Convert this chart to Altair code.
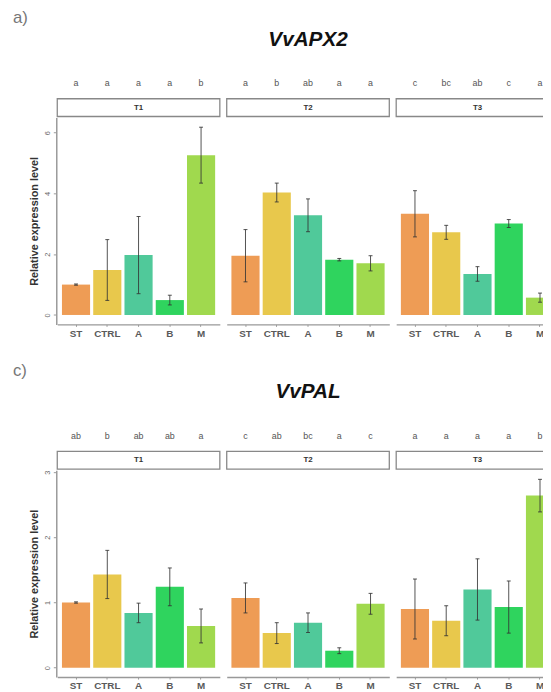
import altair as alt
import pandas as pd

treatments = ["ST", "CTRL", "A", "B", "M"]
times = ["T1", "T2", "T3"]
colors = ["#EE9C55", "#E8C84C", "#50C99A", "#2FD45E", "#A0D94E"]

apx_mean = [1.00, 1.48, 1.97, 0.49, 5.26,
            1.95, 4.03, 3.28, 1.82, 1.70,
            3.33, 2.72, 1.35, 3.01, 0.57]
apx_err = [0.02, 1.00, 1.27, 0.16, 0.92,
           0.86, 0.31, 0.54, 0.04, 0.25,
           0.76, 0.23, 0.24, 0.13, 0.15]
apx_letters = ["a", "a", "a", "a", "b",
               "a", "b", "ab", "a", "a",
               "c", "bc", "ab", "c", "a"]

pal_mean = [1.00, 1.43, 0.84, 1.24, 0.64,
            1.07, 0.53, 0.69, 0.26, 0.98,
            0.90, 0.72, 1.20, 0.93, 2.64]
pal_err = [0.01, 0.37, 0.15, 0.29, 0.26,
           0.23, 0.16, 0.15, 0.045, 0.16,
           0.46, 0.23, 0.47, 0.40, 0.25]
pal_letters = ["ab", "b", "ab", "ab", "a",
               "c", "ab", "bc", "a", "c",
               "a", "a", "a", "a", "b"]

FONT = "Liberation Sans"
W = 165
H = 210


def make_df(means, errs, letters):
    rows = []
    for i, t in enumerate(times):
        for j, tr in enumerate(treatments):
            k = i * 5 + j
            rows.append(dict(T=t, trt=tr, val=means[k], err=errs[k], let=letters[k]))
    return pd.DataFrame(rows)


def gene_chart(df, gene, tag, ydom, yticks):
    x = alt.X("trt:N", sort=treatments,
              scale=alt.Scale(paddingInner=0.1, paddingOuter=0.15),
              axis=alt.Axis(title=None, labelAngle=0, labelFont=FONT, labelFontSize=10,
                            labelFontWeight="bold", labelColor="#5a5a5a",
                            domainColor="#999999", domainWidth=1.5,
                            tickColor="#999999", tickSize=2, labelPadding=2))
    yaxis = alt.Axis(values=yticks, title="Relative expression level", labelAngle=-90,
                     labelFont=FONT, labelFontSize=7.5, labelColor="#666666",
                     titleFont=FONT, titleFontSize=11, titleFontWeight="bold",
                     titleColor="#333333", domainColor="#999999", domainWidth=1.5,
                     tickColor="#999999", tickSize=3, labelPadding=2, titlePadding=4,
                     grid=False)
    yscale = alt.Scale(domain=ydom, nice=False, zero=False)

    base = alt.Chart()
    bars = base.mark_bar().encode(
        x=x,
        y=alt.Y("val:Q", scale=yscale, axis=yaxis),
        y2=alt.datum(0),
        color=alt.Color("trt:N", scale=alt.Scale(domain=treatments, range=colors), legend=None),
    )
    eb = base.transform_calculate(lo="datum.val - datum.err", hi="datum.val + datum.err")
    rules = eb.mark_rule(color="#333333", strokeWidth=1, opacity=0.85).encode(
        x=x, y=alt.Y("lo:Q", scale=yscale, axis=yaxis), y2="hi:Q")
    caps_lo = eb.mark_tick(color="#333333", size=4, thickness=1, opacity=0.85).encode(
        x=x, y=alt.Y("lo:Q", scale=yscale, axis=yaxis))
    caps_hi = eb.mark_tick(color="#333333", size=4, thickness=1, opacity=0.85).encode(
        x=x, y=alt.Y("hi:Q", scale=yscale, axis=yaxis))
    letters = base.mark_text(font=FONT, fontSize=9, color="#555555").encode(
        x=x, y=alt.value(-35), text="let:N")

    agg = base.transform_aggregate(n="count()", groupby=["T"])
    strip = agg.mark_rect(fill="white", stroke="#888888", strokeWidth=1.3).encode(
        x=alt.value(0), x2=alt.value(W), y=alt.value(-19), y2=alt.value(-1))
    strip_txt = agg.mark_text(font=FONT, fontSize=8, fontWeight="bold", color="#333333").encode(
        x=alt.value(W / 2), y=alt.value(-10), text="T:N")
    title = agg.transform_filter("datum.T == 'T2'").mark_text(
        font=FONT, fontSize=21, fontWeight="bold", fontStyle="italic", color="#111111",
        text=gene).encode(x=alt.value(W / 2), y=alt.value(-79))

    layer = alt.layer(bars, rules, caps_lo, caps_hi, letters, strip, strip_txt, title,
                      data=df).properties(width=W, height=H)
    return layer.facet(
        column=alt.Column("T:N", header=alt.Header(title=None, labels=False)),
        spacing=5,
    ).properties(
        title=alt.TitleParams(tag, anchor="start", frame="bounds", font=FONT, fontSize=17,
                              fontWeight="normal", color="#777777", offset=2, dx=-16)
    )


top = gene_chart(make_df(apx_mean, apx_err, apx_letters), "VvAPX2", "a)",
                 [-0.31, 6.5], [0, 2, 4, 6])
bottom = gene_chart(make_df(pal_mean, pal_err, pal_letters), "VvPAL", "c)",
                    [-0.145, 3.03], [0, 1, 2, 3])

chart = alt.vconcat(top, bottom, spacing=24).properties(
    autosize=alt.AutoSizeParams(type="none"),
    padding={"left": 50, "top": 106, "right": 493, "bottom": 578},
).configure_view(stroke=None)

chart.save("out.html", embed_options={"renderer": "svg", "actions": False})
